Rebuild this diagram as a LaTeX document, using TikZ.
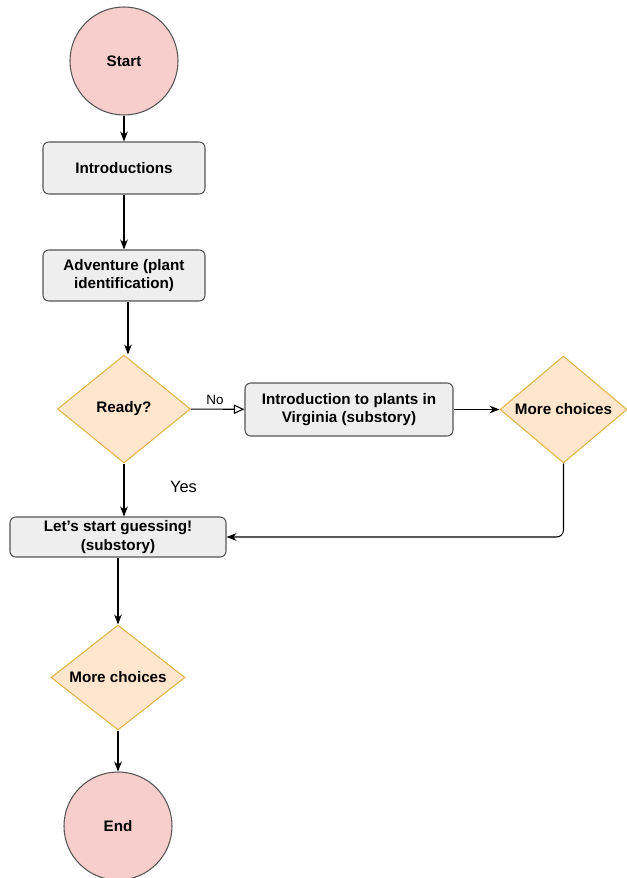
\documentclass[tikz,border=0pt]{standalone}
\usepackage{fontspec}
\setmainfont{Liberation Sans}
\usetikzlibrary{arrows.meta,shapes.geometric}
\definecolor{termfill}{HTML}{F8CECC}
\definecolor{decfill}{HTML}{FFE6CC}
\definecolor{decdraw}{HTML}{E3B448}
\definecolor{stepfill}{HTML}{EEEEEE}
\definecolor{stepdraw}{HTML}{555555}

\begin{document}
\begin{tikzpicture}[
  x=0.03cm, y=-0.03cm,
  font=\fontsize{13}{15.5}\selectfont\bfseries,
  line width=0.9pt,
  every node/.style={align=center},
  term/.style={circle, draw=stepdraw, fill=termfill, minimum size=3.24cm, inner sep=0pt},
  stepbox/.style={draw=stepdraw, rounded corners=5pt, fill=stepfill, inner sep=0pt},
  choice/.style={diamond, draw=decdraw, fill=decfill, inner sep=0pt, aspect=1.25},
  arr/.style={-{Stealth[length=3mm,width=2.3mm]}},
  openarr/.style={-{Triangle[open,length=3.2mm,width=2.8mm]}}
]
\useasboundingbox (0,0) rectangle (627,878);

\node[term] (start) at (124,61) {Start};
\node[stepbox, minimum width=4.86cm, minimum height=1.56cm] (intro) at (124,168) {Introductions};
\node[stepbox, minimum width=4.86cm, minimum height=1.53cm] (adv) at (124,275.5) {Adventure (plant\\identification)};
\node[choice, minimum width=3.99cm, minimum height=3.24cm] (ready) at (124,409) {Ready?};
\node[stepbox, minimum width=6.24cm, minimum height=1.59cm] (plants) at (349,409.5) {Introduction to plants in\\Virginia (substory)};
\node[choice, minimum width=3.81cm, minimum height=3.21cm] (more1) at (563.5,409.5) {More choices};
\node[stepbox, minimum width=6.48cm, minimum height=1.2cm] (guess) at (118,537) {Let{\char"27}s start guessing!\\(substory)};
\node[choice, minimum width=4.02cm, minimum height=3.15cm] (more2) at (118,677.5) {More choices};
\node[term] (end) at (118,826) {End};

\draw[arr] (start) -- (intro);
\draw[arr] (intro) -- (adv);
\draw[arr] (adv.south -| 128,0) -- (ready.north -| 128,0);
\draw[openarr] (ready) -- node[above, pos=0.45, font=\fontsize{11.5}{13}\selectfont\mdseries] {No} (plants);
\draw[arr] (plants) -- (more1);
\draw[arr] (ready) -- node[right=1.25cm, pos=0.45, font=\fontsize{14}{16}\selectfont\mdseries] {Yes} (guess.north -| ready);
\draw[arr, rounded corners=6pt] (more1.south) |- (guess.east);
\draw[arr] (guess) -- (more2);
\draw[arr] (more2) -- (end);
\end{tikzpicture}
\end{document}
